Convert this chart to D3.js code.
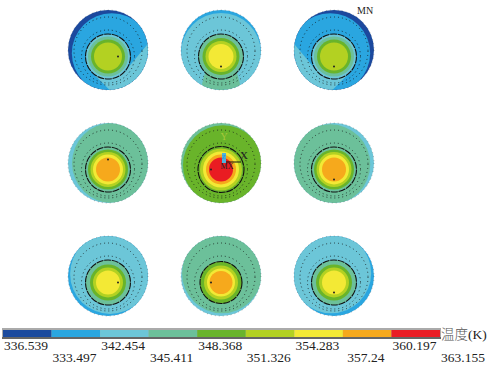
<!DOCTYPE html>
<html>
<head>
<meta charset="utf-8">
<script src="https://cdn.jsdelivr.net/npm/d3@7"></script>
<style>
  html, body { margin: 0; padding: 0; background: #fff; }
  svg { display: block; }
  text { font-family: "Liberation Serif", serif; fill: #222; }
</style>
</head>
<body>
<div id="viz"></div>
<script>
// legend
const bandColors = ['#1b4a9e', '#2aa6e0', '#6cc6d8', '#6cc09a', '#69b42c', '#b3d122', '#f3e935', '#f6a91c', '#e91c24'];
const tickLabels = ['336.539', '333.497', '342.454', '345.411', '348.368', '351.326', '354.283', '357.24', '360.197', '363.155'];
const thresholds = [339.497, 342.454, 345.411, 348.368, 351.326, 354.283, 357.24, 360.197];

// panels, left to right then top to bottom. temperatures in K, read by colour band
const panelCol = [0, 1, 2, 0, 1, 2, 0, 1, 2];
const panelRow = [0, 0, 0, 1, 1, 1, 2, 2, 2];
const shellTemp = [341, 344, 341, 347, 350, 347, 344, 347, 344];
const rimTemp = [338, 341, 338, 344, 347, 344, 341, 344, 341];
const wedgeTemp = [344, 347, 344, null, null, null, null, null, null];
const coreTemps = [
    [353, 350, 347, 344],
    [356, 353, 350, 347],
    [353, 350, 347, 344],
    [359, 356, 353, 350, 347],
    [362, 359, 356, 353, 350],
    [359, 356, 353, 350, 347],
    [356, 353, 350, 347],
    [359, 356, 353, 350],
    [356, 353, 350, 347]
];
const coreRadii = [
    [14, 17, 20, 22.5],
    [12.5, 15.5, 18.5, 22.5],
    [14, 17, 20, 22.5],
    [12, 15, 17.5, 20, 22.5],
    [12, 15, 18, 21, 23],
    [12, 15, 17.5, 20, 22.5],
    [12, 15, 18, 22.5],
    [11.5, 14, 17, 21],
    [12, 15, 18, 22.5]
];
// where the crescent sits (degrees, 0 = up, clockwise) and how thick it is
const rimDeg = [310, 0, 50, 270, 320, 70, 225, 200, 135];
const rimDepth = [5, 3, 5, 4, 3, 4, 3, 3, 4];
// wedge edges leave the ring at one angle and run off in another direction
const wedgeStart = [[130, 40], [135, 165], [135, 225]];
const wedgeEnd = [[225, 135], [225, 195], [230, 320]];
const markDeg = [90, 180, 180, 0, 270, 180, 90, 270, 180];

const width = 491, height = 372;
const discR = 40, coreDy = 6.5, ringR = 22.5;

const svg = d3.select("#viz").append("svg")
    .attr("width", width)
    .attr("height", height);

const defs = svg.append("defs");
defs.append("filter").attr("id", "soft")
    .append("feGaussianBlur").attr("stdDeviation", 0.4);

const xScale = d3.scalePoint().domain([0, 1, 2]).range([108, 334]);
const yScale = d3.scalePoint().domain([0, 1, 2]).range([50, 276]);
const color = d3.scaleThreshold().domain(thresholds).range(bandColors);

const polar = (deg, r) => [r * Math.sin(deg * Math.PI / 180), -r * Math.cos(deg * Math.PI / 180)];

function wedgePath(i) {
    const [a1, d1] = wedgeStart[i];
    const [a2, d2] = wedgeEnd[i];
    const p1 = polar(a1, ringR), p2 = polar(a2, ringR);
    const r1 = polar(d1, 90), r2 = polar(d2, 90);
    return d3.line()([
        [0, 0],
        p1,
        [p1[0] + r1[0], p1[1] + r1[1]],
        polar(a1, 120),
        polar((a1 + a2) / 2, 120),
        polar(a2, 120),
        [p2[0] + r2[0], p2[1] + r2[1]],
        p2
    ]) + "Z";
}

const panels = svg.selectAll(".panel")
    .data(d3.range(9))
    .join("g")
        .attr("class", "panel")
        .attr("filter", "url(#soft)")
        .attr("transform", i => `translate(${xScale(panelCol[i])},${yScale(panelRow[i])})`);

defs.selectAll("clipPath")
    .data(d3.range(9))
    .join("clipPath")
        .attr("id", i => "disc" + i)
    .append("circle")
        .attr("r", discR);

// rim first, then the main shell pushed away from it
panels.append("circle")
    .attr("r", discR)
    .attr("fill", i => color(rimTemp[i]));

const clipped = panels.append("g")
    .attr("clip-path", i => `url(#disc${i})`);

clipped.append("circle")
    .attr("r", discR)
    .attr("cx", i => -polar(rimDeg[i], rimDepth[i])[0])
    .attr("cy", i => -polar(rimDeg[i], rimDepth[i])[1])
    .attr("fill", i => color(shellTemp[i]));

clipped.filter(i => wedgeTemp[i] !== null).append("path")
    .attr("transform", `translate(0,${coreDy})`)
    .attr("d", wedgePath)
    .attr("fill", i => color(wedgeTemp[i]));

// mesh specks round the edge
panels.append("circle")
    .attr("r", discR)
    .attr("fill", "none")
    .attr("stroke", "#444")
    .attr("stroke-width", 0.7)
    .attr("stroke-dasharray", "1 3")
    .attr("opacity", 0.55);

// dotted outer boundary
panels.append("circle")
    .attr("r", 34)
    .attr("cy", 1)
    .attr("fill", "none")
    .attr("stroke", "#111")
    .attr("stroke-width", 0.9)
    .attr("stroke-dasharray", "1 3")
    .attr("opacity", 0.85);

const core = panels.append("g")
    .attr("transform", `translate(0,${coreDy})`);

core.append("circle")
    .attr("r", 26.5)
    .attr("fill", "none")
    .attr("stroke", "#111")
    .attr("stroke-width", 0.9)
    .attr("stroke-dasharray", "1 3")
    .attr("opacity", 0.85);

core.selectAll(".zone")
    .data(i => d3.range(coreTemps[i].length).reverse().map(k => ({t: coreTemps[i][k], r: coreRadii[i][k]})))
    .join("circle")
        .attr("class", "zone")
        .attr("r", d => d.r)
        .attr("fill", d => color(d.t));

core.append("circle")
    .attr("r", i => d3.max(coreRadii[i]))
    .attr("fill", "none")
    .attr("stroke", "#111")
    .attr("stroke-width", 1.1)
    .attr("stroke-dasharray", "7 0.8");

// minimum marker in each core
core.append("circle")
    .attr("cx", i => polar(markDeg[i], 10)[0])
    .attr("cy", i => polar(markDeg[i], 10)[1])
    .attr("r", 1)
    .attr("fill", "#222");

svg.append("text")
    .attr("x", 357)
    .attr("y", 14)
    .style("font-size", "10px")
    .text("MN");

// coordinate triad on the centre panel
const triad = svg.append("g")
    .attr("transform", `translate(${xScale(1)},${yScale(1)})`);

triad.append("path")
    .attr("d", "M3,-1H20")
    .attr("fill", "none")
    .attr("stroke", "#111")
    .attr("stroke-width", 1);
triad.append("rect")
    .attr("x", 1).attr("y", -10)
    .attr("width", 4).attr("height", 10)
    .attr("fill", "#4fb3dc");
triad.append("text")
    .attr("x", 3).attr("y", -4)
    .attr("text-anchor", "middle")
    .style("font-size", "7px")
    .style("fill", "#2f8fc4")
    .text("Z");
triad.append("text")
    .attr("x", 23).attr("y", -4)
    .attr("text-anchor", "middle")
    .style("font-size", "11px")
    .text("X");
triad.append("text")
    .attr("x", 3).attr("y", -23)
    .attr("text-anchor", "middle")
    .style("font-size", "10px")
    .style("fill", "#a8c83c")
    .text("Y");
triad.append("text")
    .attr("x", 6).attr("y", 6)
    .attr("text-anchor", "middle")
    .style("font-size", "8px")
    .text("MX");

// colour bar
const barX = d3.scaleLinear().domain([0, bandColors.length]).range([3, 440]);
const barTop = 328, barH = 11;

svg.append("rect")
    .attr("x", barX(0) - 1)
    .attr("y", barTop)
    .attr("width", barX(9) - barX(0) + 2)
    .attr("height", barH)
    .attr("fill", "#aaa");
svg.append("rect")
    .attr("x", barX(0) - 1)
    .attr("y", barTop + barH - 2)
    .attr("width", barX(9) - barX(0) + 2)
    .attr("height", 2)
    .attr("fill", "#666");

svg.selectAll(".band")
    .data(bandColors)
    .join("rect")
        .attr("class", "band")
        .attr("x", (d, i) => barX(i))
        .attr("y", barTop + 2)
        .attr("width", barX(1) - barX(0))
        .attr("height", barH - 4)
        .attr("fill", d => d);

svg.selectAll(".tick-label")
    .data(tickLabels)
    .join("text")
        .attr("class", "tick-label")
        .attr("x", (d, i) => barX(i) + 23)
        .attr("y", (d, i) => i % 2 ? 362 : 350)
        .attr("text-anchor", "middle")
        .style("font-size", "13.5px")
        .text(d => d);

const unit = svg.append("text")
    .attr("x", 441)
    .attr("y", 339)
    .style("font-size", "13.5px");
unit.append("tspan")
    .style("font-family", "'Noto Sans CJK SC'")
    .style("font-weight", 300)
    .style("fill", "#555")
    .text("温度");
unit.append("tspan").text("(K)");
</script>
</body>
</html>
